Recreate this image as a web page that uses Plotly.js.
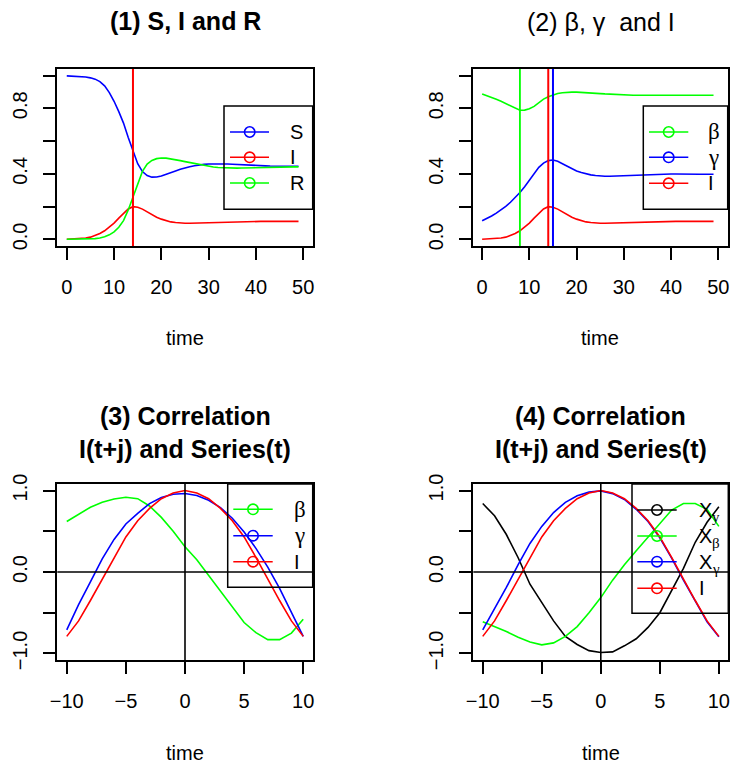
<!DOCTYPE html>
<html>
<head>
<meta charset="utf-8">
<script src="https://cdn.plot.ly/plotly-3.0.1.min.js"></script>
<style>html,body{margin:0;padding:0;background:#fff}</style>
</head>
<body>
<div id="chart" style="width:730px;height:769px"></div>
<script>
// ---------- data ----------
const time = [0,1,2,3,4,5,6,7,8,9,10,11,12,13,14,15,16,17,18,19,20,21,22,23,24,25,26,27,28,29,30,31,32,33,34,35,36,37,38,39,40,41,42,43,44,45,46,47,48,49];
const S = [0.998,0.997,0.996,0.994,0.991,0.986,0.978,0.963,0.937,0.896,0.843,0.78,0.71,0.622,0.537,0.462,0.414,0.39,0.38,0.381,0.387,0.396,0.407,0.418,0.428,0.437,0.444,0.45,0.455,0.458,0.46,0.461,0.461,0.461,0.46,0.459,0.457,0.456,0.454,0.452,0.451,0.45,0.449,0.448,0.448,0.447,0.447,0.447,0.447,0.447];
const I = [0.001,0.002,0.004,0.006,0.009,0.014,0.023,0.036,0.053,0.074,0.1,0.13,0.16,0.186,0.2,0.197,0.185,0.168,0.151,0.136,0.124,0.114,0.107,0.103,0.1,0.099,0.099,0.1,0.101,0.102,0.103,0.104,0.105,0.106,0.107,0.107,0.108,0.108,0.109,0.109,0.109,0.11,0.11,0.11,0.11,0.11,0.11,0.11,0.11,0.11];
const R = [0.001,0.001,0.001,0.001,0.002,0.003,0.005,0.009,0.016,0.028,0.046,0.074,0.115,0.18,0.26,0.345,0.415,0.46,0.482,0.493,0.497,0.496,0.492,0.487,0.481,0.475,0.469,0.463,0.456,0.451,0.446,0.442,0.439,0.437,0.436,0.435,0.435,0.436,0.437,0.438,0.439,0.44,0.441,0.442,0.442,0.443,0.443,0.443,0.443,0.443];
const beta = [0.888,0.878,0.867,0.855,0.843,0.83,0.816,0.802,0.788,0.789,0.797,0.812,0.835,0.856,0.871,0.882,0.89,0.895,0.898,0.899,0.899,0.898,0.896,0.894,0.892,0.89,0.888,0.886,0.884,0.883,0.882,0.881,0.88,0.88,0.88,0.88,0.88,0.88,0.88,0.88,0.88,0.88,0.88,0.88,0.88,0.88,0.88,0.88,0.88,0.88];
const gamma = [0.114,0.128,0.143,0.161,0.18,0.202,0.227,0.255,0.286,0.322,0.362,0.403,0.44,0.466,0.481,0.485,0.477,0.462,0.446,0.431,0.418,0.408,0.4,0.394,0.39,0.387,0.386,0.386,0.387,0.389,0.391,0.393,0.395,0.396,0.397,0.398,0.399,0.399,0.399,0.399,0.399,0.399,0.398,0.398,0.398,0.398,0.398,0.398,0.398,0.398];
const peakBeta = 8, peakI = 14, peakGamma = 15;

const lag = [-10,-9,-8,-7,-6,-5,-4,-3,-2,-1,0,1,2,3,4,5,6,7,8,9,10];
const corBeta3  = [0.62,0.71,0.795,0.855,0.895,0.918,0.90,0.81,0.67,0.50,0.31,0.15,-0.04,-0.23,-0.42,-0.62,-0.745,-0.83,-0.83,-0.75,-0.58];
const corGamma3 = [-0.71,-0.40,-0.12,0.16,0.40,0.59,0.72,0.84,0.915,0.955,0.963,0.94,0.88,0.79,0.66,0.49,0.29,0.06,-0.20,-0.49,-0.79];
const corI      = [-0.79,-0.60,-0.35,-0.09,0.18,0.43,0.63,0.78,0.90,0.97,1.0,0.97,0.90,0.78,0.63,0.43,0.18,-0.09,-0.35,-0.60,-0.79];
const corXy     = [0.84,0.69,0.46,0.175,-0.15,-0.375,-0.60,-0.79,-0.89,-0.965,-0.988,-0.98,-0.906,-0.82,-0.68,-0.50,-0.235,0.045,0.365,0.61,0.80];
const corXbeta  = [-0.61,-0.67,-0.73,-0.80,-0.86,-0.894,-0.87,-0.79,-0.67,-0.50,-0.314,-0.10,0.09,0.26,0.43,0.60,0.76,0.84,0.84,0.77,0.56];
const corXgamma = [-0.71,-0.45,-0.19,0.09,0.35,0.56,0.73,0.855,0.935,0.98,0.995,0.962,0.89,0.77,0.62,0.42,0.17,-0.10,-0.36,-0.61,-0.795];

const timeTicks = [0,10,20,30,40,50];
const lagTicks = [-10,-5,0,5,10];
const lagTickText = ['\u221210','\u22125','0','5','10'];
const propTicks = [0,0.4,0.8];
const propTickText = ['0.0','0.4','0.8'];
const propMinor = [0.2,0.6,1.0];
const corTicks = [-1,0,1];
const corTickText = ['\u22121.0','0.0','1.0'];
const corMinor = [-0.5,0.5];

// ---------- styling ----------
const W = 730, H = 769;
const F = 'Liberation Sans, Arial, Helvetica, sans-serif';
const GF = 'Liberation Serif, Times New Roman, serif';
const BLUE = '#0000ff', RED = '#ff0000', GREEN = '#00ff00', BLACK = '#000000';
const px = x => x / W;
const py = y => 1 - y / H;

const boxes = [
  {x0:57.3, x1:312.7, y0:69,  y1:246},
  {x0:472.7,x1:727.7, y0:69,  y1:246},
  {x0:57.3, x1:312.7, y0:484, y1:660},
  {x0:473.3,x1:728.3, y0:484, y1:660}
];

function xax(b, range, vals, txt, anchor) {
  return {domain:[px(b.x0), px(b.x1)], range:range, tickvals:vals, ticktext:txt,
    ticks:'outside', ticklen:12, tickwidth:2, tickcolor:BLACK,
    showline:true, mirror:true, linewidth:2, linecolor:BLACK,
    showgrid:false, zeroline:false, anchor:anchor, fixedrange:true,
    ticklabelstandoff:10,
    tickfont:{family:F, size:20, color:BLACK}};
}
function yax(b, range, vals, txt, minor, anchor) {
  return {domain:[py(b.y1), py(b.y0)], range:range, tickvals:vals, ticktext:txt,
    ticks:'outside', ticklen:12, tickwidth:2, tickcolor:BLACK,
    minor:{tickvals:minor, ticks:'outside', ticklen:12, tickwidth:2, tickcolor:BLACK, showgrid:false},
    showline:true, mirror:true, linewidth:2, linecolor:BLACK,
    showgrid:false, zeroline:false, anchor:anchor, fixedrange:true,
    tickangle:-90, ticklabelstandoff:8,
    tickfont:{family:F, size:20, color:BLACK}};
}

function line(x, y, color, xa, ya, name) {
  return {x:x, y:y, type:'scatter', mode:'lines', name:name, xaxis:xa, yaxis:ya,
    line:{color:color, width:1.6}, hoverinfo:'skip', showlegend:false};
}

const data = [
  line(time, S, BLUE, 'x', 'y', 'S'),
  line(time, I, RED, 'x', 'y', 'I'),
  line(time, R, GREEN, 'x', 'y', 'R'),
  line(time, beta, GREEN, 'x2', 'y2', '\u03b2'),
  line(time, gamma, BLUE, 'x2', 'y2', '\u03b3'),
  line(time, I, RED, 'x2', 'y2', 'I'),
  line(lag, corBeta3, GREEN, 'x3', 'y3', '\u03b2'),
  line(lag, corGamma3, BLUE, 'x3', 'y3', '\u03b3'),
  line(lag, corI, RED, 'x3', 'y3', 'I'),
  line(lag, corXy, BLACK, 'x4', 'y4', 'Xy'),
  line(lag, corXbeta, GREEN, 'x4', 'y4', 'X\u03b2'),
  line(lag, corXgamma, BLUE, 'x4', 'y4', 'X\u03b3'),
  line(lag, corI, RED, 'x4', 'y4', 'I')
];

const shapes = [];
function vline(xv, xa, ya, color, w) {
  shapes.push({type:'line', xref:xa, yref:ya + ' domain', x0:xv, x1:xv, y0:0, y1:1, line:{color:color, width:w}});
}
function hline(yv, xa, ya, color, w) {
  shapes.push({type:'line', xref:xa + ' domain', yref:ya, x0:0, x1:1, y0:yv, y1:yv, line:{color:color, width:w}});
}
vline(peakI, 'x', 'y', RED, 2);
vline(peakBeta, 'x2', 'y2', GREEN, 1.8);
vline(peakI, 'x2', 'y2', RED, 2);
vline(peakGamma, 'x2', 'y2', BLUE, 2);
vline(0, 'x3', 'y3', BLACK, 1.6); hline(0, 'x3', 'y3', BLACK, 1.6);
vline(0, 'x4', 'y4', BLACK, 1.6); hline(0, 'x4', 'y4', BLACK, 1.6);

const annotations = [];
function txt(text, x, y, size, opts, family) {
  annotations.push(Object.assign({text:text, xref:'paper', yref:'paper', x:px(x), y:py(y),
    xanchor:'center', yanchor:'middle', showarrow:false,
    font:{family:family || F, size:size, color:BLACK}}, opts || {}));
}

// legends drawn R-style; items: [label, colour, fontFamily, fontSize, subscript]
function legend(box, lx0, lx1, cx, rows, textX, items) {
  shapes.push({type:'rect', xref:'paper', yref:'paper', x0:px(box[0]), x1:px(box[1]), y0:py(box[3]), y1:py(box[2]),
    line:{color:BLACK, width:1.5}, fillcolor:'rgba(0,0,0,0)'});
  items.forEach((it, i) => {
    const yy = rows[i];
    shapes.push({type:'line', xref:'paper', yref:'paper', x0:px(lx0), x1:px(lx1), y0:py(yy), y1:py(yy), line:{color:it[1], width:1.6}});
    const r = 5.2;
    shapes.push({type:'circle', xref:'paper', yref:'paper', x0:px(cx - r), x1:px(cx + r), y0:py(yy + r), y1:py(yy - r),
      line:{color:it[1], width:1.6}, fillcolor:'rgba(0,0,0,0)'});
    txt(it[0], textX, yy, it[3] || 20, {xanchor:'left'}, it[2]);
    if (it[4]) txt(it[4], textX + 13.5, yy + 7, 15, {xanchor:'left'}, GF);
  });
}
legend([224,312.7,106,209.3], 230, 269, 249.7, [132,157.3,183], 288,
  [['S',BLUE],['I',RED],['R',GREEN]]);
legend([643.3,727.7,106,209.3], 649, 688.3, 668.7, [132,157.3,183.3], 706,
  [['\u03b2',GREEN,GF,23],['\u03b3',BLUE,GF,23],['I',RED]]);
legend([227.7,312.7,484,587.3], 233.3, 272.7, 253, [509.3,535.7,561.7], 292,
  [['\u03b2',GREEN,GF,23],['\u03b3',BLUE,GF,23],['I',RED]]);
legend([632,728.3,484,613.3], 637.3, 676.7, 657, [510,536,561.7,588.3], 696.5,
  [['X',BLACK,F,20,'y'],['X',GREEN,F,20,'\u03b2'],['X',BLUE,F,20,'\u03b3'],['I',RED]]);

// titles
txt('<b>(1) S, I and R</b>', 185, 21, 25);
txt('(2) \u03b2, \u03b3\u00a0 and I', 600.5, 22, 25);
txt('<b>(3) Correlation</b>', 185, 416, 25);
txt('<b>I(t+j) and Series(t)</b>', 185, 448.5, 25);
txt('<b>(4) Correlation</b>', 600.8, 416, 25);
txt('<b>I(t+j) and Series(t)</b>', 600.8, 448.5, 25);
// axis labels
txt('time', 185, 338, 20);
txt('time', 600.2, 338, 20);
txt('time', 185, 753, 20);
txt('time', 600.8, 753, 20);

const layout = {
  width:W, height:H, margin:{l:0, r:0, t:0, b:0},
  paper_bgcolor:'#ffffff', plot_bgcolor:'#ffffff', showlegend:false,
  xaxis:  xax(boxes[0], [-2,52], timeTicks, timeTicks.map(String), 'y'),
  yaxis:  yax(boxes[0], [-0.04,1.04], propTicks, propTickText, propMinor, 'x'),
  xaxis2: xax(boxes[1], [-2,52], timeTicks, timeTicks.map(String), 'y2'),
  yaxis2: yax(boxes[1], [-0.04,1.04], propTicks, propTickText, propMinor, 'x2'),
  xaxis3: xax(boxes[2], [-10.8,10.8], lagTicks, lagTickText, 'y3'),
  yaxis3: yax(boxes[2], [-1.08,1.08], corTicks, corTickText, corMinor, 'x3'),
  xaxis4: xax(boxes[3], [-10.8,10.8], lagTicks, lagTickText, 'y4'),
  yaxis4: yax(boxes[3], [-1.08,1.08], corTicks, corTickText, corMinor, 'x4'),
  shapes:shapes, annotations:annotations
};
Plotly.newPlot('chart', data, layout, {staticPlot:true, displayModeBar:false});
</script>
</body>
</html>
